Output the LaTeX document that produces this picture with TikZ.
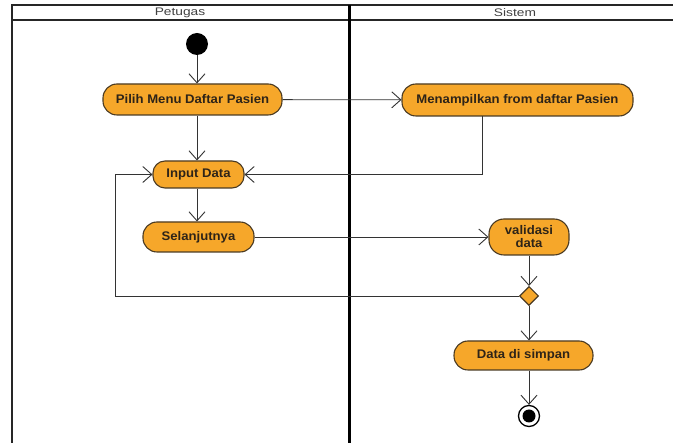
\documentclass[tikz,border=0pt]{standalone}
\usepackage{fontspec}
\setmainfont{Liberation Sans}
\newfontfamily\actfont[FakeStretch=1.05]{Liberation Sans}
\newfontfamily\headfont[FakeStretch=1.25]{Liberation Sans}
\usetikzlibrary{arrows.meta,shapes.geometric,calc}
\definecolor{actfill}{HTML}{F6A72A}
\definecolor{actdraw}{HTML}{4A3A22}
\definecolor{inkc}{HTML}{2E2418}
\begin{document}
\begin{tikzpicture}[x=1pt,y=-1pt,
  act/.style={draw=actdraw, line width=1.1pt, fill=actfill, rounded corners=14pt,
    font=\actfont\bfseries\fontsize{12.5}{13}\selectfont, text=inkc, inner sep=0pt, align=center},
  flow/.style={draw=black!80, line width=0.8pt,
    -{Straight Barb[length=9pt,width=16pt,line width=0.9pt]}},
  lane/.style={line width=2pt, black!85},
  lanetitle/.style={font=\headfont\fontsize{11}{12}\selectfont, text=black!75}]
\useasboundingbox (0,0) rectangle (673,443);

% swimlane frame
\draw[lane] (12,443) -- (12,5) -- (673,5);
\draw[lane] (12,20) -- (673,20);
\draw[line width=3pt] (349,5) -- (349,443);
\node[lanetitle] (petugas) at (180,12.5) {Petugas};
\node[lanetitle] (sistem) at (515,12.5) {Sistem};

% activities
\node[circle, fill=black, minimum size=22pt, inner sep=0pt] (start) at (197,44) {};
\node[act, minimum width=179pt, minimum height=31pt] (pilih) at (192.5,99.5) {Pilih Menu Daftar Pasien};
\node[act, minimum width=231pt, minimum height=32pt] (tampil) at (517.5,100) {Menampilkan from daftar Pasien};
\node[act, minimum width=91pt, minimum height=27pt, rounded corners=12pt] (input) at (198.5,174.5) {Input Data};
\node[act, minimum width=111pt, minimum height=30pt] (sel) at (198.5,237) {Selanjutnya};
\node[act, minimum width=80pt, minimum height=36pt, rounded corners=15pt] (val) at (529,237) {validasi\\data};
\node[diamond, draw=actdraw, line width=1.1pt, fill=actfill, minimum size=19pt, inner sep=0pt] (dec) at (529,296) {};
\node[act, minimum width=139pt, minimum height=29pt] (simpan) at (523.5,355.5) {Data di simpan};
\node[circle, draw=black, line width=1.3pt, fill=white, minimum size=21pt, inner sep=0pt] (end) at (529,416) {};
\fill (end) circle (6.5pt);

% bend points
\coordinate (mdrop) at (482,116);
\coordinate (loop) at (115,296);

% transitions
\draw[flow] (start) -- (start |- pilih.north);
\draw[flow] (pilih) -- (tampil);
\draw[flow] (start |- pilih.south) -- (start |- input.north);
\draw[flow] (mdrop) |- (input.east);
\draw[flow] (start |- input.south) -- (start |- sel.north);
\draw[flow] (sel) -- (val);
\draw[flow] (val) -- (dec);
\draw[flow] (dec.west) -- (loop) |- (input.west);
\draw[flow] (dec) -- (dec |- simpan.north);
\draw[flow] (dec |- simpan.south) -- (end);
\end{tikzpicture}
\end{document}
